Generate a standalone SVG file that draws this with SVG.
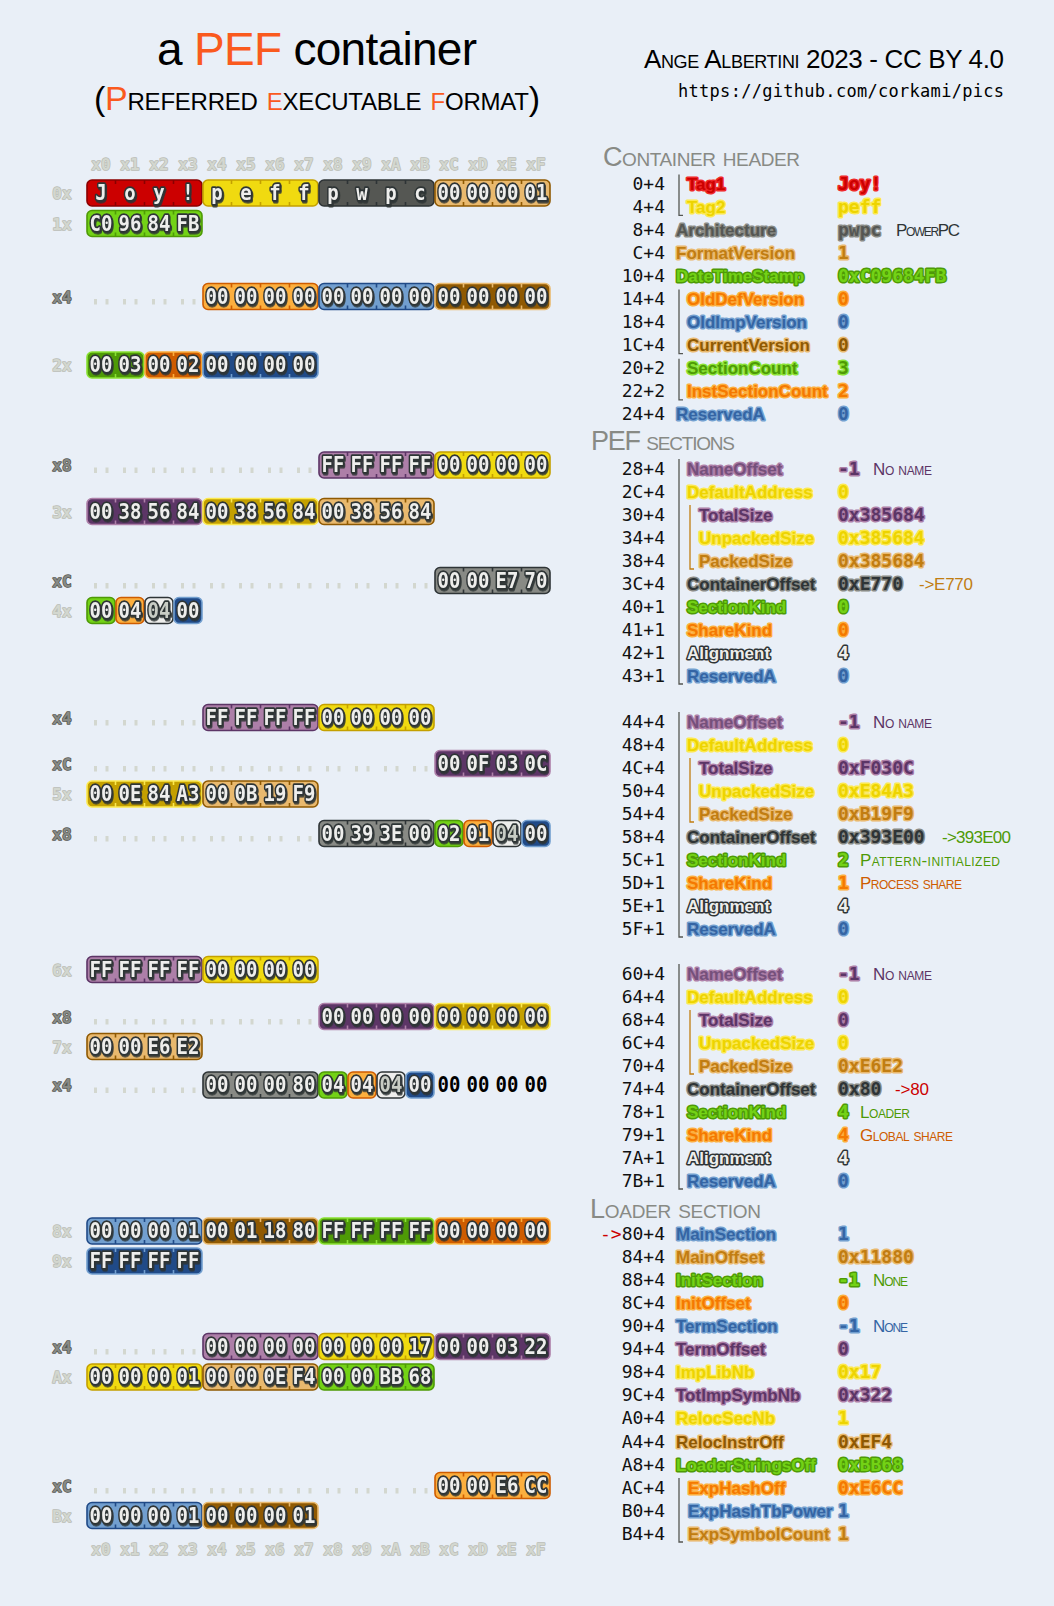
<svg xmlns="http://www.w3.org/2000/svg" width="1054" height="1606" viewBox="0 0 1054 1606">
<style>
.bg{fill:#e9eff7}
.ttl{font-family:"Liberation Sans",Arial,sans-serif;fill:#000}
.or{fill:#fa5a1e}
.sc{font-variant:small-caps}
.hdr{font:27px "Liberation Sans",Arial,sans-serif;font-variant:small-caps;fill:#888a85}
.off{font:18px "DejaVu Sans Mono",monospace;fill:#111;text-anchor:end}
.lab{font:bold 17px "Liberation Sans",Arial,sans-serif;stroke-width:3;paint-order:stroke;stroke-linejoin:round}
.val{font:bold 18px "DejaVu Sans Mono",monospace;stroke-width:3;paint-order:stroke;stroke-linejoin:round}
.note{font:17px "Liberation Sans",Arial,sans-serif;font-variant:small-caps}
.br{stroke:#555753;stroke-width:1.3;fill:none}
.br2{stroke:#c17d11;stroke-width:1.3;fill:none}
.hx rect{fill:var(--f);stroke:var(--s);stroke-width:1.6}
.hx path{stroke:var(--s);stroke-width:1.6;fill:none}
.hx text{font:bold 19px "DejaVu Sans Mono",monospace;fill:#eeeeec;stroke:#2e3436;stroke-width:3;paint-order:stroke;stroke-linejoin:round;text-anchor:middle;filter:url(#sh);transform-box:fill-box;transform-origin:center;transform:scaleY(1.15)}
.cWhite text{fill:#c8ccc4}
.plain{font:bold 19px "DejaVu Sans Mono",monospace;fill:#000;text-anchor:middle;transform-box:fill-box;transform-origin:center;transform:scaleY(1.15)}
.dots{stroke:#d3d7cf;stroke-width:5.5;stroke-dasharray:3 8.5 3 14.5}
.rl{font:bold 16px "DejaVu Sans Mono",monospace;text-anchor:middle;stroke-width:1.5;paint-order:stroke;stroke-linejoin:round}
.lt{fill:#d3d7cf;stroke:#babdb6}
.dk{fill:#888a85;stroke:#555753}
.cRed{--f:#cc0000;--s:#8a0000}
.cYel{--f:#f0da10;--s:#c4a000}
.cDyel{--f:#c4a000;--s:#fce94f}
.cDgray{--f:#555753;--s:#2e3436}
.cGray{--f:#888a85;--s:#2e3436}
.cTan{--f:#e9b96e;--s:#8f5902}
.cGreen{--f:#73d216;--s:#4e9a06}
.cDgreen{--f:#4e9a06;--s:#8ae234}
.cOrange{--f:#fcaf3e;--s:#ce5c00}
.cDorange{--f:#ce5c00;--s:#fcaf3e}
.cLblue{--f:#729fcf;--s:#204a87}
.cDblue{--f:#204a87;--s:#729fcf}
.cBrown{--f:#8f5902;--s:#e9b96e}
.cPurple{--f:#ad7fa8;--s:#5c3566}
.cDpurple{--f:#5c3566;--s:#ad7fa8}
.cWhite{--f:#eeeeec;--s:#2e3436}
.tRed{fill:#cc0000;stroke:#ef2929}
.tYel{fill:#edd400;stroke:#fce94f}
.tDgray{fill:#555753;stroke:#888a85}
.tGray{fill:#2e3436;stroke:#888a85}
.tTan{fill:#c17d11;stroke:#e9b96e}
.tGreen{fill:#73d216;stroke:#4e9a06}
.tDgreen{fill:#4e9a06;stroke:#8ae234}
.tOrange{fill:#f57900;stroke:#fcaf3e}
.tBlue{fill:#3465a4;stroke:#729fcf}
.tBrown{fill:#8f5902;stroke:#e9b96e}
.tPurple{fill:#75507b;stroke:#ad7fa8}
.tDpurple{fill:#5c3566;stroke:#ad7fa8}
.tWhite{fill:#eeeeec;stroke:#2e3436}
</style>
<defs>
<filter id="sh" x="-20%" y="-20%" width="150%" height="160%"><feDropShadow dx="1" dy="1.5" stdDeviation="0.3" flood-color="#2e3436" flood-opacity="0.9"/></filter>
</defs>
<rect class="bg" x="0" y="0" width="1054" height="1606"/>

<g id="title">
<text class="ttl" x="157" y="65" font-size="46" textLength="320">a <tspan class="or">PEF</tspan> container</text>
<text class="ttl sc" x="94" y="110" font-size="34" textLength="446">(<tspan class="or">P</tspan>referred <tspan class="or">e</tspan>xecutable <tspan class="or">f</tspan>ormat)</text>
<text class="ttl sc" x="1004" y="68" font-size="26" text-anchor="end" textLength="360">Ange Albertini 2023 - CC BY 4.0</text>
<text x="1004" y="97" font-family="DejaVu Sans Mono, monospace" font-size="17" text-anchor="end" textLength="326">https://github.com/corkami/pics</text>
</g>

<g id="axis-top" class="rl lt">
<text x="101" y="170">x0</text><text x="130" y="170">x1</text><text x="159" y="170">x2</text><text x="188" y="170">x3</text><text x="217" y="170">x4</text><text x="246" y="170">x5</text><text x="275" y="170">x6</text><text x="304" y="170">x7</text><text x="333" y="170">x8</text><text x="362" y="170">x9</text><text x="391" y="170">xA</text><text x="420" y="170">xB</text><text x="449" y="170">xC</text><text x="478" y="170">xD</text><text x="507" y="170">xE</text><text x="536" y="170">xF</text>
</g>
<g id="axis-bottom" class="rl lt">
<text x="101" y="1555">x0</text><text x="130" y="1555">x1</text><text x="159" y="1555">x2</text><text x="188" y="1555">x3</text><text x="217" y="1555">x4</text><text x="246" y="1555">x5</text><text x="275" y="1555">x6</text><text x="304" y="1555">x7</text><text x="333" y="1555">x8</text><text x="362" y="1555">x9</text><text x="391" y="1555">xA</text><text x="420" y="1555">xB</text><text x="449" y="1555">xC</text><text x="478" y="1555">xD</text><text x="507" y="1555">xE</text><text x="536" y="1555">xF</text>
</g>

<g id="row-labels" class="rl">
<text class="lt" x="62" y="199">0x</text>
<text class="lt" x="62" y="229.5">1x</text>
<text class="dk" x="62" y="302.5">x4</text>
<text class="lt" x="62" y="371">2x</text>
<text class="dk" x="62" y="471">x8</text>
<text class="lt" x="62" y="517.5">3x</text>
<text class="dk" x="62" y="586.5">xC</text>
<text class="lt" x="62" y="616.5">4x</text>
<text class="dk" x="62" y="723.5">x4</text>
<text class="dk" x="62" y="769.5">xC</text>
<text class="lt" x="62" y="800">5x</text>
<text class="dk" x="62" y="839.5">x8</text>
<text class="lt" x="62" y="975.5">6x</text>
<text class="dk" x="62" y="1022.5">x8</text>
<text class="lt" x="62" y="1052.5">7x</text>
<text class="dk" x="62" y="1091">x4</text>
<text class="lt" x="62" y="1237">8x</text>
<text class="lt" x="62" y="1267">9x</text>
<text class="dk" x="62" y="1352.5">x4</text>
<text class="lt" x="62" y="1383">Ax</text>
<text class="dk" x="62" y="1491.5">xC</text>
<text class="lt" x="62" y="1521.5">Bx</text>
</g>

<g id="dots" class="dots">
<line x1="94" y1="301.75" x2="203" y2="301.75"/>
<line x1="94" y1="470.25" x2="319" y2="470.25"/>
<line x1="94" y1="585.75" x2="435" y2="585.75"/>
<line x1="94" y1="722.75" x2="203" y2="722.75"/>
<line x1="94" y1="768.75" x2="435" y2="768.75"/>
<line x1="94" y1="838.75" x2="319" y2="838.75"/>
<line x1="94" y1="1021.75" x2="319" y2="1021.75"/>
<line x1="94" y1="1090.25" x2="203" y2="1090.25"/>
<line x1="94" y1="1351.75" x2="203" y2="1351.75"/>
<line x1="94" y1="1490.75" x2="435" y2="1490.75"/>
</g>

<g id="hex">
<g id="h-tag1" class="hx cRed" transform="translate(87,193)"><rect x="0" y="-13" width="115" height="26" rx="5"/><path d="M28.5-13v4m0 18v4M57.5-13v4m0 18v4M86.5-13v4m0 18v4"/><text y="6.5"><tspan x="14">J</tspan><tspan x="43">o</tspan><tspan x="72">y</tspan><tspan x="101">!</tspan></text></g>
<g id="h-tag2" class="hx cYel" transform="translate(203,193)"><rect x="0" y="-13" width="115" height="26" rx="5"/><path d="M28.5-13v4m0 18v4M57.5-13v4m0 18v4M86.5-13v4m0 18v4"/><text y="6.5"><tspan x="14">p</tspan><tspan x="43">e</tspan><tspan x="72">f</tspan><tspan x="101">f</tspan></text></g>
<g id="h-arch" class="hx cDgray" transform="translate(319,193)"><rect x="0" y="-13" width="115" height="26" rx="5"/><path d="M28.5-13v4m0 18v4M57.5-13v4m0 18v4M86.5-13v4m0 18v4"/><text y="6.5"><tspan x="14">p</tspan><tspan x="43">w</tspan><tspan x="72">p</tspan><tspan x="101">c</tspan></text></g>
<g id="h-fmtver" class="hx cTan" transform="translate(435,193)"><rect x="0" y="-13" width="115" height="26" rx="5"/><path d="M28.5-13v4m0 18v4M57.5-13v4m0 18v4M86.5-13v4m0 18v4"/><text y="6.5"><tspan x="14">00</tspan><tspan x="43">00</tspan><tspan x="72">00</tspan><tspan x="101">01</tspan></text></g>
<g id="h-date" class="hx cGreen" transform="translate(87,223.5)"><rect x="0" y="-13" width="115" height="26" rx="5"/><path d="M28.5-13v4m0 18v4M57.5-13v4m0 18v4M86.5-13v4m0 18v4"/><text y="6.5"><tspan x="14">C0</tspan><tspan x="43">96</tspan><tspan x="72">84</tspan><tspan x="101">FB</tspan></text></g>
<g id="h-olddef" class="hx cOrange" transform="translate(203,296.5)"><rect x="0" y="-13" width="115" height="26" rx="5"/><path d="M28.5-13v4m0 18v4M57.5-13v4m0 18v4M86.5-13v4m0 18v4"/><text y="6.5"><tspan x="14">00</tspan><tspan x="43">00</tspan><tspan x="72">00</tspan><tspan x="101">00</tspan></text></g>
<g id="h-oldimp" class="hx cLblue" transform="translate(319,296.5)"><rect x="0" y="-13" width="115" height="26" rx="5"/><path d="M28.5-13v4m0 18v4M57.5-13v4m0 18v4M86.5-13v4m0 18v4"/><text y="6.5"><tspan x="14">00</tspan><tspan x="43">00</tspan><tspan x="72">00</tspan><tspan x="101">00</tspan></text></g>
<g id="h-curver" class="hx cBrown" transform="translate(435,296.5)"><rect x="0" y="-13" width="115" height="26" rx="5"/><path d="M28.5-13v4m0 18v4M57.5-13v4m0 18v4M86.5-13v4m0 18v4"/><text y="6.5"><tspan x="14">00</tspan><tspan x="43">00</tspan><tspan x="72">00</tspan><tspan x="101">00</tspan></text></g>
<g id="h-seccount" class="hx cDgreen" transform="translate(87,365)"><rect x="0" y="-13" width="57" height="26" rx="5"/><path d="M28.5-13v4m0 18v4"/><text y="6.5"><tspan x="14">00</tspan><tspan x="43">03</tspan></text></g>
<g id="h-instcount" class="hx cDorange" transform="translate(145,365)"><rect x="0" y="-13" width="57" height="26" rx="5"/><path d="M28.5-13v4m0 18v4"/><text y="6.5"><tspan x="14">00</tspan><tspan x="43">02</tspan></text></g>
<g id="h-resA" class="hx cDblue" transform="translate(203,365)"><rect x="0" y="-13" width="115" height="26" rx="5"/><path d="M28.5-13v4m0 18v4M57.5-13v4m0 18v4M86.5-13v4m0 18v4"/><text y="6.5"><tspan x="14">00</tspan><tspan x="43">00</tspan><tspan x="72">00</tspan><tspan x="101">00</tspan></text></g>
<g id="h-s0-name" class="hx cPurple" transform="translate(319,465)"><rect x="0" y="-13" width="115" height="26" rx="5"/><path d="M28.5-13v4m0 18v4M57.5-13v4m0 18v4M86.5-13v4m0 18v4"/><text y="6.5"><tspan x="14">FF</tspan><tspan x="43">FF</tspan><tspan x="72">FF</tspan><tspan x="101">FF</tspan></text></g>
<g id="h-s0-def" class="hx cYel" transform="translate(435,465)"><rect x="0" y="-13" width="115" height="26" rx="5"/><path d="M28.5-13v4m0 18v4M57.5-13v4m0 18v4M86.5-13v4m0 18v4"/><text y="6.5"><tspan x="14">00</tspan><tspan x="43">00</tspan><tspan x="72">00</tspan><tspan x="101">00</tspan></text></g>
<g id="h-s0-total" class="hx cDpurple" transform="translate(87,511.5)"><rect x="0" y="-13" width="115" height="26" rx="5"/><path d="M28.5-13v4m0 18v4M57.5-13v4m0 18v4M86.5-13v4m0 18v4"/><text y="6.5"><tspan x="14">00</tspan><tspan x="43">38</tspan><tspan x="72">56</tspan><tspan x="101">84</tspan></text></g>
<g id="h-s0-unp" class="hx cDyel" transform="translate(203,511.5)"><rect x="0" y="-13" width="115" height="26" rx="5"/><path d="M28.5-13v4m0 18v4M57.5-13v4m0 18v4M86.5-13v4m0 18v4"/><text y="6.5"><tspan x="14">00</tspan><tspan x="43">38</tspan><tspan x="72">56</tspan><tspan x="101">84</tspan></text></g>
<g id="h-s0-pack" class="hx cTan" transform="translate(319,511.5)"><rect x="0" y="-13" width="115" height="26" rx="5"/><path d="M28.5-13v4m0 18v4M57.5-13v4m0 18v4M86.5-13v4m0 18v4"/><text y="6.5"><tspan x="14">00</tspan><tspan x="43">38</tspan><tspan x="72">56</tspan><tspan x="101">84</tspan></text></g>
<g id="h-s0-cont" class="hx cGray" transform="translate(435,580.5)"><rect x="0" y="-13" width="115" height="26" rx="5"/><path d="M28.5-13v4m0 18v4M57.5-13v4m0 18v4M86.5-13v4m0 18v4"/><text y="6.5"><tspan x="14">00</tspan><tspan x="43">00</tspan><tspan x="72">E7</tspan><tspan x="101">70</tspan></text></g>
<g id="h-s0-kind" class="hx cGreen" transform="translate(87,610.5)"><rect x="0" y="-13" width="28" height="26" rx="5"/><text y="6.5"><tspan x="14">00</tspan></text></g>
<g id="h-s0-share" class="hx cOrange" transform="translate(116,610.5)"><rect x="0" y="-13" width="28" height="26" rx="5"/><text y="6.5"><tspan x="14">04</tspan></text></g>
<g id="h-s0-align" class="hx cWhite" transform="translate(145,610.5)"><rect x="0" y="-13" width="28" height="26" rx="5"/><text y="6.5"><tspan x="14">04</tspan></text></g>
<g id="h-s0-res" class="hx cDblue" transform="translate(174,610.5)"><rect x="0" y="-13" width="28" height="26" rx="5"/><text y="6.5"><tspan x="14">00</tspan></text></g>
<g id="h-s1-name" class="hx cPurple" transform="translate(203,717.5)"><rect x="0" y="-13" width="115" height="26" rx="5"/><path d="M28.5-13v4m0 18v4M57.5-13v4m0 18v4M86.5-13v4m0 18v4"/><text y="6.5"><tspan x="14">FF</tspan><tspan x="43">FF</tspan><tspan x="72">FF</tspan><tspan x="101">FF</tspan></text></g>
<g id="h-s1-def" class="hx cYel" transform="translate(319,717.5)"><rect x="0" y="-13" width="115" height="26" rx="5"/><path d="M28.5-13v4m0 18v4M57.5-13v4m0 18v4M86.5-13v4m0 18v4"/><text y="6.5"><tspan x="14">00</tspan><tspan x="43">00</tspan><tspan x="72">00</tspan><tspan x="101">00</tspan></text></g>
<g id="h-s1-total" class="hx cDpurple" transform="translate(435,763.5)"><rect x="0" y="-13" width="115" height="26" rx="5"/><path d="M28.5-13v4m0 18v4M57.5-13v4m0 18v4M86.5-13v4m0 18v4"/><text y="6.5"><tspan x="14">00</tspan><tspan x="43">0F</tspan><tspan x="72">03</tspan><tspan x="101">0C</tspan></text></g>
<g id="h-s1-unp" class="hx cDyel" transform="translate(87,794)"><rect x="0" y="-13" width="115" height="26" rx="5"/><path d="M28.5-13v4m0 18v4M57.5-13v4m0 18v4M86.5-13v4m0 18v4"/><text y="6.5"><tspan x="14">00</tspan><tspan x="43">0E</tspan><tspan x="72">84</tspan><tspan x="101">A3</tspan></text></g>
<g id="h-s1-pack" class="hx cTan" transform="translate(203,794)"><rect x="0" y="-13" width="115" height="26" rx="5"/><path d="M28.5-13v4m0 18v4M57.5-13v4m0 18v4M86.5-13v4m0 18v4"/><text y="6.5"><tspan x="14">00</tspan><tspan x="43">0B</tspan><tspan x="72">19</tspan><tspan x="101">F9</tspan></text></g>
<g id="h-s1-cont" class="hx cGray" transform="translate(319,833.5)"><rect x="0" y="-13" width="115" height="26" rx="5"/><path d="M28.5-13v4m0 18v4M57.5-13v4m0 18v4M86.5-13v4m0 18v4"/><text y="6.5"><tspan x="14">00</tspan><tspan x="43">39</tspan><tspan x="72">3E</tspan><tspan x="101">00</tspan></text></g>
<g id="h-s1-kind" class="hx cGreen" transform="translate(435,833.5)"><rect x="0" y="-13" width="28" height="26" rx="5"/><text y="6.5"><tspan x="14">02</tspan></text></g>
<g id="h-s1-share" class="hx cOrange" transform="translate(464,833.5)"><rect x="0" y="-13" width="28" height="26" rx="5"/><text y="6.5"><tspan x="14">01</tspan></text></g>
<g id="h-s1-align" class="hx cWhite" transform="translate(493,833.5)"><rect x="0" y="-13" width="28" height="26" rx="5"/><text y="6.5"><tspan x="14">04</tspan></text></g>
<g id="h-s1-res" class="hx cDblue" transform="translate(522,833.5)"><rect x="0" y="-13" width="28" height="26" rx="5"/><text y="6.5"><tspan x="14">00</tspan></text></g>
<g id="h-s2-name" class="hx cPurple" transform="translate(87,969.5)"><rect x="0" y="-13" width="115" height="26" rx="5"/><path d="M28.5-13v4m0 18v4M57.5-13v4m0 18v4M86.5-13v4m0 18v4"/><text y="6.5"><tspan x="14">FF</tspan><tspan x="43">FF</tspan><tspan x="72">FF</tspan><tspan x="101">FF</tspan></text></g>
<g id="h-s2-def" class="hx cYel" transform="translate(203,969.5)"><rect x="0" y="-13" width="115" height="26" rx="5"/><path d="M28.5-13v4m0 18v4M57.5-13v4m0 18v4M86.5-13v4m0 18v4"/><text y="6.5"><tspan x="14">00</tspan><tspan x="43">00</tspan><tspan x="72">00</tspan><tspan x="101">00</tspan></text></g>
<g id="h-s2-total" class="hx cDpurple" transform="translate(319,1016.5)"><rect x="0" y="-13" width="115" height="26" rx="5"/><path d="M28.5-13v4m0 18v4M57.5-13v4m0 18v4M86.5-13v4m0 18v4"/><text y="6.5"><tspan x="14">00</tspan><tspan x="43">00</tspan><tspan x="72">00</tspan><tspan x="101">00</tspan></text></g>
<g id="h-s2-unp" class="hx cDyel" transform="translate(435,1016.5)"><rect x="0" y="-13" width="115" height="26" rx="5"/><path d="M28.5-13v4m0 18v4M57.5-13v4m0 18v4M86.5-13v4m0 18v4"/><text y="6.5"><tspan x="14">00</tspan><tspan x="43">00</tspan><tspan x="72">00</tspan><tspan x="101">00</tspan></text></g>
<g id="h-s2-pack" class="hx cTan" transform="translate(87,1046.5)"><rect x="0" y="-13" width="115" height="26" rx="5"/><path d="M28.5-13v4m0 18v4M57.5-13v4m0 18v4M86.5-13v4m0 18v4"/><text y="6.5"><tspan x="14">00</tspan><tspan x="43">00</tspan><tspan x="72">E6</tspan><tspan x="101">E2</tspan></text></g>
<g id="h-s2-cont" class="hx cGray" transform="translate(203,1085)"><rect x="0" y="-13" width="115" height="26" rx="5"/><path d="M28.5-13v4m0 18v4M57.5-13v4m0 18v4M86.5-13v4m0 18v4"/><text y="6.5"><tspan x="14">00</tspan><tspan x="43">00</tspan><tspan x="72">00</tspan><tspan x="101">80</tspan></text></g>
<g id="h-s2-kind" class="hx cGreen" transform="translate(319,1085)"><rect x="0" y="-13" width="28" height="26" rx="5"/><text y="6.5"><tspan x="14">04</tspan></text></g>
<g id="h-s2-share" class="hx cOrange" transform="translate(348,1085)"><rect x="0" y="-13" width="28" height="26" rx="5"/><text y="6.5"><tspan x="14">04</tspan></text></g>
<g id="h-s2-align" class="hx cWhite" transform="translate(377,1085)"><rect x="0" y="-13" width="28" height="26" rx="5"/><text y="6.5"><tspan x="14">04</tspan></text></g>
<g id="h-s2-res" class="hx cDblue" transform="translate(406,1085)"><rect x="0" y="-13" width="28" height="26" rx="5"/><text y="6.5"><tspan x="14">00</tspan></text></g>
<text id="h-pad" class="plain" y="1091.5"><tspan x="449">00</tspan><tspan x="478">00</tspan><tspan x="507">00</tspan><tspan x="536">00</tspan></text>
<g id="h-main" class="hx cLblue" transform="translate(87,1231)"><rect x="0" y="-13" width="115" height="26" rx="5"/><path d="M28.5-13v4m0 18v4M57.5-13v4m0 18v4M86.5-13v4m0 18v4"/><text y="6.5"><tspan x="14">00</tspan><tspan x="43">00</tspan><tspan x="72">00</tspan><tspan x="101">01</tspan></text></g>
<g id="h-mainoff" class="hx cBrown" transform="translate(203,1231)"><rect x="0" y="-13" width="115" height="26" rx="5"/><path d="M28.5-13v4m0 18v4M57.5-13v4m0 18v4M86.5-13v4m0 18v4"/><text y="6.5"><tspan x="14">00</tspan><tspan x="43">01</tspan><tspan x="72">18</tspan><tspan x="101">80</tspan></text></g>
<g id="h-init" class="hx cDgreen" transform="translate(319,1231)"><rect x="0" y="-13" width="115" height="26" rx="5"/><path d="M28.5-13v4m0 18v4M57.5-13v4m0 18v4M86.5-13v4m0 18v4"/><text y="6.5"><tspan x="14">FF</tspan><tspan x="43">FF</tspan><tspan x="72">FF</tspan><tspan x="101">FF</tspan></text></g>
<g id="h-initoff" class="hx cDorange" transform="translate(435,1231)"><rect x="0" y="-13" width="115" height="26" rx="5"/><path d="M28.5-13v4m0 18v4M57.5-13v4m0 18v4M86.5-13v4m0 18v4"/><text y="6.5"><tspan x="14">00</tspan><tspan x="43">00</tspan><tspan x="72">00</tspan><tspan x="101">00</tspan></text></g>
<g id="h-term" class="hx cDblue" transform="translate(87,1261)"><rect x="0" y="-13" width="115" height="26" rx="5"/><path d="M28.5-13v4m0 18v4M57.5-13v4m0 18v4M86.5-13v4m0 18v4"/><text y="6.5"><tspan x="14">FF</tspan><tspan x="43">FF</tspan><tspan x="72">FF</tspan><tspan x="101">FF</tspan></text></g>
<g id="h-termoff" class="hx cPurple" transform="translate(203,1346.5)"><rect x="0" y="-13" width="115" height="26" rx="5"/><path d="M28.5-13v4m0 18v4M57.5-13v4m0 18v4M86.5-13v4m0 18v4"/><text y="6.5"><tspan x="14">00</tspan><tspan x="43">00</tspan><tspan x="72">00</tspan><tspan x="101">00</tspan></text></g>
<g id="h-implib" class="hx cYel" transform="translate(319,1346.5)"><rect x="0" y="-13" width="115" height="26" rx="5"/><path d="M28.5-13v4m0 18v4M57.5-13v4m0 18v4M86.5-13v4m0 18v4"/><text y="6.5"><tspan x="14">00</tspan><tspan x="43">00</tspan><tspan x="72">00</tspan><tspan x="101">17</tspan></text></g>
<g id="h-totimp" class="hx cDpurple" transform="translate(435,1346.5)"><rect x="0" y="-13" width="115" height="26" rx="5"/><path d="M28.5-13v4m0 18v4M57.5-13v4m0 18v4M86.5-13v4m0 18v4"/><text y="6.5"><tspan x="14">00</tspan><tspan x="43">00</tspan><tspan x="72">03</tspan><tspan x="101">22</tspan></text></g>
<g id="h-relocsec" class="hx cYel" transform="translate(87,1377)"><rect x="0" y="-13" width="115" height="26" rx="5"/><path d="M28.5-13v4m0 18v4M57.5-13v4m0 18v4M86.5-13v4m0 18v4"/><text y="6.5"><tspan x="14">00</tspan><tspan x="43">00</tspan><tspan x="72">00</tspan><tspan x="101">01</tspan></text></g>
<g id="h-relocinstr" class="hx cTan" transform="translate(203,1377)"><rect x="0" y="-13" width="115" height="26" rx="5"/><path d="M28.5-13v4m0 18v4M57.5-13v4m0 18v4M86.5-13v4m0 18v4"/><text y="6.5"><tspan x="14">00</tspan><tspan x="43">00</tspan><tspan x="72">0E</tspan><tspan x="101">F4</tspan></text></g>
<g id="h-ldrstr" class="hx cGreen" transform="translate(319,1377)"><rect x="0" y="-13" width="115" height="26" rx="5"/><path d="M28.5-13v4m0 18v4M57.5-13v4m0 18v4M86.5-13v4m0 18v4"/><text y="6.5"><tspan x="14">00</tspan><tspan x="43">00</tspan><tspan x="72">BB</tspan><tspan x="101">68</tspan></text></g>
<g id="h-exphash" class="hx cOrange" transform="translate(435,1485.5)"><rect x="0" y="-13" width="115" height="26" rx="5"/><path d="M28.5-13v4m0 18v4M57.5-13v4m0 18v4M86.5-13v4m0 18v4"/><text y="6.5"><tspan x="14">00</tspan><tspan x="43">00</tspan><tspan x="72">E6</tspan><tspan x="101">CC</tspan></text></g>
<g id="h-exppow" class="hx cLblue" transform="translate(87,1515.5)"><rect x="0" y="-13" width="115" height="26" rx="5"/><path d="M28.5-13v4m0 18v4M57.5-13v4m0 18v4M86.5-13v4m0 18v4"/><text y="6.5"><tspan x="14">00</tspan><tspan x="43">00</tspan><tspan x="72">00</tspan><tspan x="101">01</tspan></text></g>
<g id="h-expsym" class="hx cBrown" transform="translate(203,1515.5)"><rect x="0" y="-13" width="115" height="26" rx="5"/><path d="M28.5-13v4m0 18v4M57.5-13v4m0 18v4M86.5-13v4m0 18v4"/><text y="6.5"><tspan x="14">00</tspan><tspan x="43">00</tspan><tspan x="72">00</tspan><tspan x="101">01</tspan></text></g>
</g>

<g id="headers">
<text class="hdr" x="603" y="166" textLength="197">Container header</text>
<text class="hdr" x="591" y="450" textLength="144">PEF sections</text>
<text class="hdr" x="590" y="1218" textLength="171">Loader section</text>
</g>

<g id="brackets">
<path class="br" d="M679,174.4V215.4h4"/>
<path class="br" d="M679,289.6V353.7h4"/>
<path class="br" d="M679,358.7V399.8h4"/>
<path class="br" d="M679,459V684h4"/>
<path class="br2" d="M690,505V569h4"/>
<path class="br" d="M679,712V937h4"/>
<path class="br2" d="M690,758V822h4"/>
<path class="br" d="M679,964V1189h4"/>
<path class="br2" d="M690,1010V1074h4"/>
<path class="br" d="M679,1478V1542h4"/>
</g>

<g id="container-header">
<g id="f-tag1"><text class="off" x="665" y="189.9">0+4</text><text class="lab tRed" x="687" y="189.9">Tag1</text><text class="val tRed" x="838" y="189.9">Joy!</text></g>
<g id="f-tag2"><text class="off" x="665" y="212.9">4+4</text><text class="lab tYel" x="687" y="212.9">Tag2</text><text class="val tYel" x="838" y="212.9">peff</text></g>
<g id="f-arch"><text class="off" x="665" y="236">8+4</text><text class="lab tDgray" x="676" y="236">Architecture</text><text class="val tDgray" x="838" y="236">pwpc</text><text class="note" x="896" y="236" fill="#2e3436" textLength="64">PowerPC</text></g>
<g id="f-fmtver"><text class="off" x="665" y="259">C+4</text><text class="lab tTan" x="676" y="259">FormatVersion</text><text class="val tTan" x="838" y="259">1</text></g>
<g id="f-date"><text class="off" x="665" y="282.1">10+4</text><text class="lab tGreen" x="676" y="282.1">DateTimeStamp</text><text class="val tGreen" x="838" y="282.1">0xC09684FB</text></g>
<g id="f-olddef"><text class="off" x="665" y="305.1">14+4</text><text class="lab tOrange" x="687" y="305.1">OldDefVersion</text><text class="val tOrange" x="838" y="305.1">0</text></g>
<g id="f-oldimp"><text class="off" x="665" y="328.1">18+4</text><text class="lab tBlue" x="687" y="328.1">OldImpVersion</text><text class="val tBlue" x="838" y="328.1">0</text></g>
<g id="f-curver"><text class="off" x="665" y="351.2">1C+4</text><text class="lab tBrown" x="687" y="351.2">CurrentVersion</text><text class="val tBrown" x="838" y="351.2">0</text></g>
<g id="f-seccount"><text class="off" x="665" y="374.2">20+2</text><text class="lab tDgreen" x="687" y="374.2">SectionCount</text><text class="val tDgreen" x="838" y="374.2">3</text></g>
<g id="f-instcount"><text class="off" x="665" y="397.3">22+2</text><text class="lab tOrange" x="687" y="397.3">InstSectionCount</text><text class="val tOrange" x="838" y="397.3">2</text></g>
<g id="f-resA"><text class="off" x="665" y="420.3">24+4</text><text class="lab tBlue" x="676" y="420.3">ReservedA</text><text class="val tBlue" x="838" y="420.3">0</text></g>
</g>

<g id="section0">
<g id="s0-name"><text class="off" x="665" y="474.5">28+4</text><text class="lab tPurple" x="687" y="474.5">NameOffset</text><text class="val tDpurple" x="838" y="474.5">-1</text><text class="note" x="873" y="474.5" fill="#5c3566" textLength="59">No name</text></g>
<g id="s0-def"><text class="off" x="665" y="497.5">2C+4</text><text class="lab tYel" x="687" y="497.5">DefaultAddress</text><text class="val tYel" x="838" y="497.5">0</text></g>
<g id="s0-total"><text class="off" x="665" y="520.5">30+4</text><text class="lab tDpurple" x="699" y="520.5">TotalSize</text><text class="val tDpurple" x="838" y="520.5">0x385684</text></g>
<g id="s0-unp"><text class="off" x="665" y="543.5">34+4</text><text class="lab tYel" x="699" y="543.5">UnpackedSize</text><text class="val tYel" x="838" y="543.5">0x385684</text></g>
<g id="s0-pack"><text class="off" x="665" y="566.5">38+4</text><text class="lab tTan" x="699" y="566.5">PackedSize</text><text class="val tTan" x="838" y="566.5">0x385684</text></g>
<g id="s0-cont"><text class="off" x="665" y="589.5">3C+4</text><text class="lab tGray" x="687" y="589.5">ContainerOffset</text><text class="val tGray" x="838" y="589.5">0xE770</text><text class="note" x="919" y="589.5" fill="#c17d11" textLength="54">-&gt;E770</text></g>
<g id="s0-kind"><text class="off" x="665" y="612.5">40+1</text><text class="lab tGreen" x="687" y="612.5">SectionKind</text><text class="val tGreen" x="838" y="612.5">0</text></g>
<g id="s0-share"><text class="off" x="665" y="635.5">41+1</text><text class="lab tOrange" x="687" y="635.5">ShareKind</text><text class="val tOrange" x="838" y="635.5">0</text></g>
<g id="s0-align"><text class="off" x="665" y="658.5">42+1</text><text class="lab tWhite" x="687" y="658.5">Alignment</text><text class="val tWhite" x="838" y="658.5">4</text></g>
<g id="s0-res"><text class="off" x="665" y="681.5">43+1</text><text class="lab tBlue" x="687" y="681.5">ReservedA</text><text class="val tBlue" x="838" y="681.5">0</text></g>
</g>

<g id="section1">
<g id="s1-name"><text class="off" x="665" y="727.5">44+4</text><text class="lab tPurple" x="687" y="727.5">NameOffset</text><text class="val tDpurple" x="838" y="727.5">-1</text><text class="note" x="873" y="727.5" fill="#5c3566" textLength="59">No name</text></g>
<g id="s1-def"><text class="off" x="665" y="750.5">48+4</text><text class="lab tYel" x="687" y="750.5">DefaultAddress</text><text class="val tYel" x="838" y="750.5">0</text></g>
<g id="s1-total"><text class="off" x="665" y="773.5">4C+4</text><text class="lab tDpurple" x="699" y="773.5">TotalSize</text><text class="val tDpurple" x="838" y="773.5">0xF030C</text></g>
<g id="s1-unp"><text class="off" x="665" y="796.5">50+4</text><text class="lab tYel" x="699" y="796.5">UnpackedSize</text><text class="val tYel" x="838" y="796.5">0xE84A3</text></g>
<g id="s1-pack"><text class="off" x="665" y="819.5">54+4</text><text class="lab tTan" x="699" y="819.5">PackedSize</text><text class="val tTan" x="838" y="819.5">0xB19F9</text></g>
<g id="s1-cont"><text class="off" x="665" y="842.5">58+4</text><text class="lab tGray" x="687" y="842.5">ContainerOffset</text><text class="val tGray" x="838" y="842.5">0x393E00</text><text class="note" x="942" y="842.5" fill="#4e9a06" textLength="69">-&gt;393E00</text></g>
<g id="s1-kind"><text class="off" x="665" y="865.5">5C+1</text><text class="lab tGreen" x="687" y="865.5">SectionKind</text><text class="val tGreen" x="838" y="865.5">2</text><text class="note" x="860" y="865.5" fill="#4e9a06" textLength="140">Pattern-initialized</text></g>
<g id="s1-share"><text class="off" x="665" y="888.5">5D+1</text><text class="lab tOrange" x="687" y="888.5">ShareKind</text><text class="val tOrange" x="838" y="888.5">1</text><text class="note" x="860" y="888.5" fill="#ce5c00" textLength="102">Process share</text></g>
<g id="s1-align"><text class="off" x="665" y="911.5">5E+1</text><text class="lab tWhite" x="687" y="911.5">Alignment</text><text class="val tWhite" x="838" y="911.5">4</text></g>
<g id="s1-res"><text class="off" x="665" y="934.5">5F+1</text><text class="lab tBlue" x="687" y="934.5">ReservedA</text><text class="val tBlue" x="838" y="934.5">0</text></g>
</g>

<g id="section2">
<g id="s2-name"><text class="off" x="665" y="979.5">60+4</text><text class="lab tPurple" x="687" y="979.5">NameOffset</text><text class="val tDpurple" x="838" y="979.5">-1</text><text class="note" x="873" y="979.5" fill="#5c3566" textLength="59">No name</text></g>
<g id="s2-def"><text class="off" x="665" y="1002.5">64+4</text><text class="lab tYel" x="687" y="1002.5">DefaultAddress</text><text class="val tYel" x="838" y="1002.5">0</text></g>
<g id="s2-total"><text class="off" x="665" y="1025.5">68+4</text><text class="lab tDpurple" x="699" y="1025.5">TotalSize</text><text class="val tDpurple" x="838" y="1025.5">0</text></g>
<g id="s2-unp"><text class="off" x="665" y="1048.5">6C+4</text><text class="lab tYel" x="699" y="1048.5">UnpackedSize</text><text class="val tYel" x="838" y="1048.5">0</text></g>
<g id="s2-pack"><text class="off" x="665" y="1071.5">70+4</text><text class="lab tTan" x="699" y="1071.5">PackedSize</text><text class="val tTan" x="838" y="1071.5">0xE6E2</text></g>
<g id="s2-cont"><text class="off" x="665" y="1094.5">74+4</text><text class="lab tGray" x="687" y="1094.5">ContainerOffset</text><text class="val tGray" x="838" y="1094.5">0x80</text><text class="note" x="895" y="1094.5" fill="#cc0000" textLength="34">-&gt;80</text></g>
<g id="s2-kind"><text class="off" x="665" y="1117.5">78+1</text><text class="lab tGreen" x="687" y="1117.5">SectionKind</text><text class="val tGreen" x="838" y="1117.5">4</text><text class="note" x="860" y="1117.5" fill="#4e9a06" textLength="50">Loader</text></g>
<g id="s2-share"><text class="off" x="665" y="1140.5">79+1</text><text class="lab tOrange" x="687" y="1140.5">ShareKind</text><text class="val tOrange" x="838" y="1140.5">4</text><text class="note" x="860" y="1140.5" fill="#ce5c00" textLength="93">Global share</text></g>
<g id="s2-align"><text class="off" x="665" y="1163.5">7A+1</text><text class="lab tWhite" x="687" y="1163.5">Alignment</text><text class="val tWhite" x="838" y="1163.5">4</text></g>
<g id="s2-res"><text class="off" x="665" y="1186.5">7B+1</text><text class="lab tBlue" x="687" y="1186.5">ReservedA</text><text class="val tBlue" x="838" y="1186.5">0</text></g>
</g>

<g id="loader">
<g id="l-main"><text class="off" x="665" y="1239.8"><tspan fill="#cc0000">-&gt;</tspan>80+4</text><text class="lab tBlue" x="676" y="1239.8">MainSection</text><text class="val tBlue" x="838" y="1239.8">1</text></g>
<g id="l-mainoff"><text class="off" x="665" y="1262.9">84+4</text><text class="lab tTan" x="676" y="1262.9">MainOffset</text><text class="val tTan" x="838" y="1262.9">0x11880</text></g>
<g id="l-init"><text class="off" x="665" y="1286">88+4</text><text class="lab tGreen" x="676" y="1286">InitSection</text><text class="val tGreen" x="838" y="1286">-1</text><text class="note" x="873" y="1286" fill="#4e9a06" textLength="35">None</text></g>
<g id="l-initoff"><text class="off" x="665" y="1309">8C+4</text><text class="lab tOrange" x="676" y="1309">InitOffset</text><text class="val tOrange" x="838" y="1309">0</text></g>
<g id="l-term"><text class="off" x="665" y="1332.1">90+4</text><text class="lab tBlue" x="676" y="1332.1">TermSection</text><text class="val tBlue" x="838" y="1332.1">-1</text><text class="note" x="873" y="1332.1" fill="#3465a4" textLength="35">None</text></g>
<g id="l-termoff"><text class="off" x="665" y="1355.2">94+4</text><text class="lab tDpurple" x="676" y="1355.2">TermOffset</text><text class="val tDpurple" x="838" y="1355.2">0</text></g>
<g id="l-implib"><text class="off" x="665" y="1378.3">98+4</text><text class="lab tYel" x="676" y="1378.3">ImpLibNb</text><text class="val tYel" x="838" y="1378.3">0x17</text></g>
<g id="l-totimp"><text class="off" x="665" y="1401.4">9C+4</text><text class="lab tDpurple" x="676" y="1401.4">TotImpSymbNb</text><text class="val tDpurple" x="838" y="1401.4">0x322</text></g>
<g id="l-relocsec"><text class="off" x="665" y="1424.4">A0+4</text><text class="lab tYel" x="676" y="1424.4">RelocSecNb</text><text class="val tYel" x="838" y="1424.4">1</text></g>
<g id="l-relocinstr"><text class="off" x="665" y="1447.5">A4+4</text><text class="lab tBrown" x="676" y="1447.5">RelocInstrOff</text><text class="val tBrown" x="838" y="1447.5">0xEF4</text></g>
<g id="l-ldrstr"><text class="off" x="665" y="1470.6">A8+4</text><text class="lab tGreen" x="676" y="1470.6">LoaderStringsOff</text><text class="val tGreen" x="838" y="1470.6">0xBB68</text></g>
<g id="l-exphash"><text class="off" x="665" y="1493.7">AC+4</text><text class="lab tOrange" x="688" y="1493.7">ExpHashOff</text><text class="val tOrange" x="838" y="1493.7">0xE6CC</text></g>
<g id="l-exppow"><text class="off" x="665" y="1516.8">B0+4</text><text class="lab tBlue" x="688" y="1516.8">ExpHashTbPower</text><text class="val tBlue" x="838" y="1516.8">1</text></g>
<g id="l-expsym"><text class="off" x="665" y="1539.8">B4+4</text><text class="lab tTan" x="688" y="1539.8">ExpSymbolCount</text><text class="val tTan" x="838" y="1539.8">1</text></g>
</g>
</svg>
